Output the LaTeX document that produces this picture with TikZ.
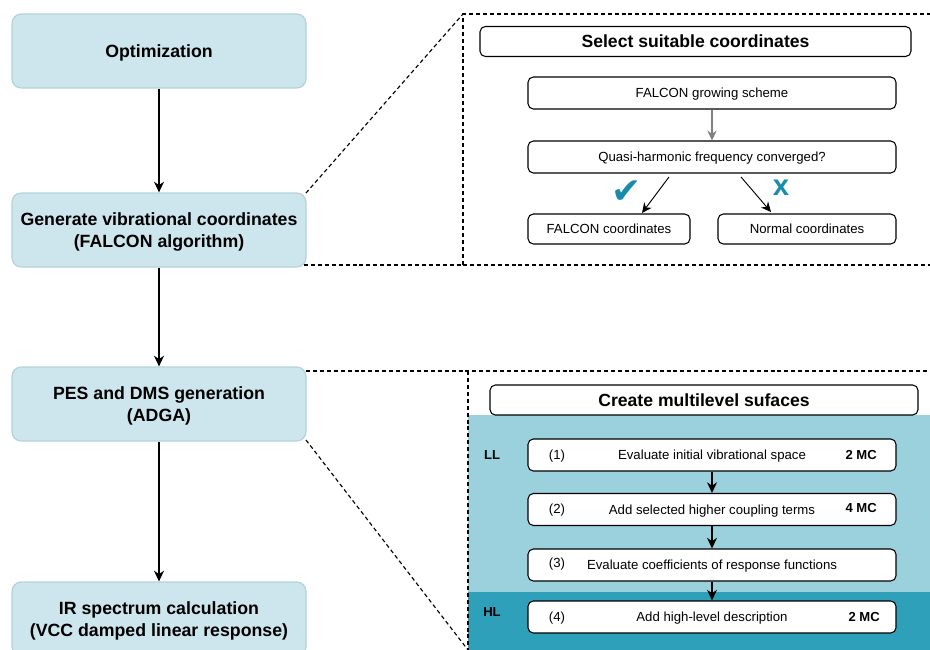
\documentclass[tikz,border=0pt]{standalone}
\usepackage{fontspec}
\setmainfont{Liberation Sans}
\newfontfamily\symfont{DejaVu Sans}
\usetikzlibrary{arrows.meta}
\definecolor{mainfill}{HTML}{CDE6ED}
\definecolor{mainborder}{HTML}{B4D1DA}
\definecolor{tealmark}{HTML}{1A8CAB}
\definecolor{lightteal}{HTML}{9BD0DD}
\definecolor{darkteal}{HTML}{2FA0B9}
\tikzset{
  mainbox/.style={draw=mainborder, line width=0.9pt, fill=mainfill, rounded corners=7pt,
    minimum width=220.5pt, minimum height=55.5pt, align=center, inner sep=0pt, text depth=-1pt,
    font=\fontsize{13.3}{16.5}\selectfont\bfseries},
  titlebox/.style={draw=black, line width=0.8pt, fill=white, rounded corners=4pt,
    minimum height=22.5pt, inner sep=0pt, text depth=0pt, font=\fontsize{13.2}{16}\selectfont\bfseries},
  stepbox/.style={draw=black, line width=0.8pt, fill=white, rounded corners=4pt,
    minimum width=276pt, minimum height=24pt, inner sep=0pt, text depth=0pt, font=\fontsize{9.9}{12}\selectfont},
  smallbox/.style={draw=black, line width=0.8pt, fill=white, rounded corners=4pt,
    minimum height=22.5pt, inner sep=0pt, text depth=0pt, font=\fontsize{9.9}{12}\selectfont},
  flow/.style={-{Stealth[length=8pt,width=7.5pt,inset=2.5pt]}, line width=0.8pt, black},
  thinflow/.style={-{Stealth[length=7.5pt,width=7pt,inset=2.5pt]}, line width=0.7pt, black},
  zoomline/.style={dash pattern=on 3pt off 2.2pt, line width=0.85pt, black},
  lbl/.style={font=\fontsize{9.9}{12}\selectfont, inner sep=0pt},
  blbl/.style={font=\fontsize{9.8}{12}\selectfont\bfseries, inner sep=0pt},
}
\begin{document}
\begin{tikzpicture}[x=0.75pt,y=-0.75pt]
\useasboundingbox (0,0) rectangle (930,649);
% teal backgrounds
\fill[lightteal] (468,415) rectangle (935,592);
\fill[darkteal] (468,592) rectangle (935,660);

% main boxes
\node[mainbox] (opt) at (159,51) {Optimization};
\node[mainbox] (gen) at (159,230) {Generate vibrational coordinates\\(FALCON algorithm)};
\node[mainbox] (pes) at (159,404) {PES and DMS generation\\(ADGA)};
\node[mainbox] (ir) at (159,619) {IR spectrum calculation\\(VCC damped linear response)};

\draw[flow] (opt) -- (gen);
\draw[flow] (gen) -- (pes);
\draw[flow] (pes) -- (ir);

% upper zoom frame
\coordinate (ua) at (306,193);
\coordinate (ub) at (304,265);
\coordinate (uc) at (463,14);
\coordinate (ud) at (463,265);
\coordinate (ue) at (940,14);
\coordinate (uf) at (940,265);
\draw[zoomline] (ua) -- (uc);
\draw[zoomline] (ub) -- (ud) -- (uc) -- (ue);
\draw[zoomline] (ud) -- (uf);

% lower zoom frame
\coordinate (la) at (306,371);
\coordinate (lb) at (306,440);
\coordinate (lc) at (468,371);
\coordinate (ld) at (468,650);
\coordinate (le) at (940,371);
\draw[zoomline] (la) -- (le);
\draw[zoomline] (lc) -- (ld);
\draw[zoomline] (lb) -- (ld);

% upper panel
\node[titlebox, minimum width=323.25pt] (sel) at (695.5,41.5) {Select suitable coordinates};
\node[stepbox] (grow) at (712,93) {FALCON growing scheme};
\node[stepbox] (quasi) at (712,157) {Quasi-harmonic frequency converged?};
\node[smallbox, minimum width=121.5pt] (fc) at (609,229) {FALCON coordinates};
\node[smallbox, minimum width=133.5pt] (nc) at (807,229) {Normal coordinates};
\draw[-{Stealth[length=7.5pt,width=7pt,inset=2.5pt]}, line width=0.8pt, gray] (grow) -- (quasi);
\coordinate (q1) at (669,177);
\coordinate (f1) at (642,213);
\coordinate (q2) at (741,177);
\coordinate (n1) at (771,212);
\draw[thinflow] (q1) -- (f1);
\draw[thinflow] (q2) -- (n1);
\node[inner sep=0pt, text=tealmark, font=\symfont\fontsize{27}{27}\selectfont] (chk) at (627,192) {✔};
\node[inner sep=0pt, text=tealmark, font=\fontsize{22}{22}\selectfont\bfseries] (crs) at (781,188) {x};

% lower panel
\node[titlebox, minimum width=321pt] (cms) at (704,400) {Create multilevel sufaces};
\node[stepbox] (s1) at (712,455) {Evaluate initial vibrational space};
\node[stepbox] (s2) at (712,509.5) {Add selected higher coupling terms};
\node[stepbox] (s3) at (712,565) {Evaluate coefficients of response functions};
\node[stepbox] (s4) at (712,617) {Add high-level description};
\draw[flow] (s1) -- (s2);
\draw[flow] (s2) -- (s3);
\draw[flow] (s3) -- (s4);

\node[lbl] (n1l) at (557,456) {(1)};
\node[lbl] (n2l) at (557,510) {(2)};
\node[lbl] (n3l) at (557,564) {(3)};
\node[lbl] (n4l) at (557,618) {(4)};
\node[blbl, anchor=east] (m1) at (877,455) {2 MC};
\node[blbl, anchor=east] (m2) at (877,508) {4 MC};
\node[blbl, anchor=east] (m4) at (880,617) {2 MC};
\node[blbl] (ll) at (492,455) {LL};
\node[blbl] (hl) at (492,612) {HL};
\end{tikzpicture}
\end{document}
